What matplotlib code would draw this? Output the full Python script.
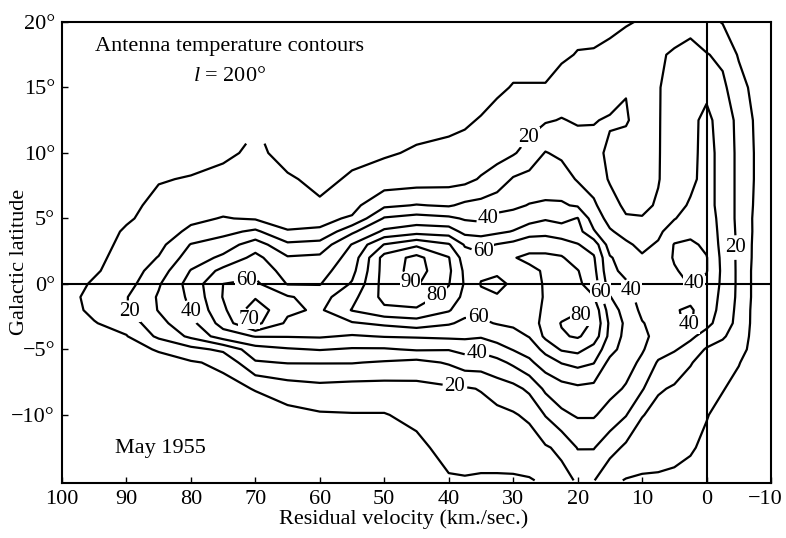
import numpy as np
import matplotlib
matplotlib.use("Agg")
from matplotlib import pyplot as plt
from matplotlib.transforms import ScaledTranslation

plt.rcParams["font.family"] = ["Liberation Serif", "DejaVu Serif"]
plt.rcParams["mathtext.fontset"] = "custom"
plt.rcParams["mathtext.rm"] = "Liberation Serif"
plt.rcParams["mathtext.it"] = "Liberation Serif:italic"

nan = np.nan

# residual velocity (km/s) of each profile, galactic latitude (deg) of each sample
velocity = [100, 95, 90, 85, 80, 75, 70, 65, 60, 55, 50, 45, 40, 37.5, 35, 32.5, 30,
            27.5, 25, 22.5, 20, 17.5, 15, 12.5, 10, 7.5, 5, 2.5, 0, -2.5, -5, -7.5, -10]
latitude = [-15, -12.5, -10, -8, -6, -5, -4, -3, -2, -1, 0, 1, 2, 3, 4, 5, 6, 8, 10,
            12.5, 15, 17.5, 20]

# antenna temperature, one row per velocity
temperature = [
    [2, 2, 2, 2, 3, 3, 4, 5, 6, 6, 6, 5, 5, 4, 4, 3, 3, 2, 2, 2, 2, 2, 2],
    [2, 3, 3, 4, 5, 6, 8, 9.5, 12, 13, 11, 9, 8, 7, 6, 5, 4, 3, 2, 2, 2, 1, 1],
    [2, 3, 4, 5, 7, 8, 9.5, 14, 19.5, 19.5, 16, 14, 13, 12, 11, 9, 8, 6, 4, 3, 2, 2, 1],
    [2, 3, 4, 6, 8, 10.5, 22, 27, 30.5, 31, 29, 25, 20.5, 17, 15, 13, 12, 9.5, 6, 4, 3, 2, 2],
    [2, 3, 4, 6, 9, 17, 32, 37, 40.5, 42, 44, 40.5, 35, 30.5, 22, 18, 15, 10.5, 7, 4, 3, 2, 2],
    [2, 3, 4, 7, 12, 22, 45, 54, 58, 60.5, 60, 53, 42, 35, 27, 20.5, 17, 13, 8, 5, 3, 2, 2],
    [2, 3, 5, 10.5, 29, 36, 50.5, 73, 76, 69, 62, 57, 53, 45, 32, 19, 17, 13, 12, nan, 4, 3, 2],
    [2, 4, 7, 15, 30.5, 39, 50.5, 58, 62, 61, 49.5, 46, 41, 32, 20.5, 17, 15, 11, 7, 5, 3, 2, 2],
    [2, 4, 9, 17, 30.5, 40.5, 51, 56, 58.5, 56, 49.5, 46, 42, 34, 21, 18, 11, 8, 6, 4, 3, 2, 2],
    [2, 5, 9.5, 16, 30.5, 39, 49, 59, 70.5, 67, 61, 57, 54, 50.5, 38, 21, 17, 11, 8, 5, 3, 2, 2],
    [3, 6, 9.5, 16, 29, 39, 50.5, 62, 78, 83, 84, 84, 84, 70.5, 52, 41, 28, 14, 9, 6, 4, 3, 2],
    [4, 7.5, 12.5, 17, 27, 41, 51, 65, 79, 84, 91, 94, 93, 78, 56, 44, 30.5, 15, 11, 7, 5, 3, 2],
    [9, 13.5, 16, 18.5, 31, 40.5, 52, 61, 71, 77, 80.5, 82, 80.5, 71, 55, 42, 29, 16, 12, 8, 6, 4, 3],
    [9.5, 13, 16, 19, 35, 43, 52, 58, 63, 67, 69, 68, 65, 59, 47, 39, 32, 17, 12.5, 9, 6, 4, 3],
    [9, 13.5, 16.5, 20.5, 35, 42, 51, 58.5, 62, 62, 59.5, 62, 62, 57, 46, 38, 33, 21, 14, 10.5, 7, 5, 3],
    [9, 13.5, 17, 25, 37, 46, 54, 60.5, 62, 61, 57, 62, 64, 60.5, 48, 43, 36, 24, 17, 13, 8.5, 6, 4],
    [9, 14, 19, 27, 42, 50.5, 56, 62, 64, 63, 62, 65, 69.5, 63, 50.5, 44, 38, 31, 19, 15, 10.5, 7, 4],
    [9.5, 14.5, 22, 32, 48, 54, 60.5, 64, 65, 65, 66, 68, 72, 66, 56, 46, 40.5, 33, 24, 16, 10.5, 7, 4],
    [11, 19, 30.5, 42, 55, 63, 72, 74, 72, 71, 71, 71, 72, 66, 57, 49, 41, 36, 30.5, 19, 10.5, 7, 5],
    [17, 22, 38, 46, 60.5, 71, 79, 80.5, 76, 73, 72, 72, 71, 64, 55, 47, 41, 35, 28, 20.5, 14, 8.5, 6],
    [21, 30.5, 41, 48, 63, 73, 81, 83, 79, 75, 72, 70.5, 65, 60.5, 54, 50.5, 39, 29, 25, 19, 14, 10.5, 7],
    [20.5, 30.5, 41, 47, 60.5, 66, 76, 79, 77, 70.5, 65, 63, 61, 56, 41, 35, 31.5, 26, 23, 19.5, 14, 10.5, 8],
    [12, 24, 36, 43, 47, 54, 57, 58, 55, 50.5, 45, 42, 41, 35, 31, 27, 24, 19, 18, 21, 15, 11, 9],
    [9.5, 18, 30.5, 39, 44, 45, 47, 48, 46, 43, 41, 38, 35, 31.5, 27, 21, 18, 15, 15.5, 21, 19.5, 13, 9.5],
    [9, 14, 20.5, 31, 38, 41, 41.5, 40.5, 38, 37, 35, 33, 31, 28, 24, 20.5, 18, 15, 15, 15.5, 15, 13, 10.5],
    [9, 13, 17, 21, 29, 34, 38, 37, 36, 35.5, 35, 34, 33, 31, 28, 24, 21, 19.5, 19.5, 19.5, 19.5, 19, 13],
    [8, 13, 17, 19, 25, 31, 35, 39, 39.5, 36, 37, 39, 41, 40.5, 35, 29.5, 27, 25, 24, 23.5, 23, 21, 16],
    [7, 11, 14, 17, 20.5, 26, 32, 41, 41, 38, 40.5, 43, 44, 42, 37, 34, 31, 28, 27.5, 28, 27, 23, 17],
    [6, 8, 10.5, 13, 17, 19, 26, 33, 36, 37, 38, 40.5, 40.5, 38, 36, 34.5, 33, 33, 33, 32, 28, 20.5, 13],
    [4, 5, 7, 10.5, 14, 17, 21, 25, 26, 27, 28, 28, 27.5, 27, 27, 27, 27, 27, 27, 26.5, 22, 18, 9.5],
    [3, 4, 5, 7, 10.5, 14, 16, 17, 17.5, 18, 18, 18, 18, 18.5, 18, 17.5, 17.5, 17.5, 17.5, 17, 14, 9, 6],
    [2, 2, 3, 4, 5, 6, 6.5, 7, 7, 7.5, 7.5, 7.5, 8, 8, 8.5, 8.5, 9, 9.5, 9.5, 9, 7, 5, 3],
    [2, 2, 2, 2, 2, 2, 2, 2, 2, 2, 2, 2, 2, 2, 2, 2, 2, 2, 2, 2, 2, 2, 2],
]

levels = [10, 20, 30, 40, 50, 60, 70, 80, 90]

# where the numbers sit on the contours (velocity, latitude)
label_spots = {
    20: [(89, -1.9), (27.6, 11.2), (39, -7.6), (-3.4, 2.8)],
    40: [(79.3, -1.9), (33.5, 4.7), (35.6, -5.3), (12, -0.6), (2.2, 0.2), (3, -3.7)],
    60: [(71.6, 0.8), (34.8, 2.6), (35.4, -2.7), (17.5, -0.8)],
    70: [(70.5, -2.6)],
    80: [(41.8, -1.0), (19.6, -2.5)],
    90: [(46.7, -0.1)],
}

xticks = [100, 90, 80, 70, 60, 50, 40, 30, 20, 10, 0, -10]
yticks = [20, 15, 10, 5, 0, -5, -10]

v = np.array(velocity)[::-1]
z = np.ma.masked_invalid(np.array(temperature, dtype=float)[::-1].T)

fig = plt.figure(figsize=(7.86, 5.38), dpi=100)
ax = fig.add_axes([62 / 786, 55 / 538, 709 / 786, 461 / 538])

ax.axhline(0, color="black", lw=1.5, zorder=1)
ax.axvline(0, color="black", lw=1.5, zorder=1)

texts = []
for lev in levels:
    cs = ax.contour(v, latitude, z, levels=[lev], colors="black", linewidths=1.6, zorder=2)
    if lev in label_spots:
        texts += ax.clabel(cs, manual=label_spots[lev], inline=True, fmt="%d",
                           fontsize=15, inline_spacing=2)
for t in texts:
    t.set_rotation(0)
    t.set_zorder(4)
    t.set_bbox(dict(facecolor="white", edgecolor="none", pad=0.3))

ax.set_xlim(100, -10)
ax.set_ylim(-15.2, 20)
ax.set_xticks(xticks)
ax.set_xticklabels([str(x).replace("-", "\u2212") for x in xticks])
ax.set_yticks(yticks)
ax.set_yticklabels([(str(y) + "\u00b0").replace("-", "\u2212") for y in yticks])
ax.tick_params(direction="in", length=4, width=1, labelsize=16, pad=5)
last = ax.get_xticklabels()[-1]
last.set_transform(last.get_transform() + ScaledTranslation(-6 / 100, 0, fig.dpi_scale_trans))
for s in ax.spines.values():
    s.set_linewidth(1.5)

ax.set_xlabel("Residual velocity (km./sec.)", fontsize=16)
ax.xaxis.set_label_coords(0.482, -0.058)
ax.set_ylabel("Galactic latitude", fontsize=16)
ax.yaxis.set_label_coords(-0.047, 0.48)

ax.text(0.046, 0.946, "Antenna temperature contours", transform=ax.transAxes,
        fontsize=16, va="center", ha="left")
ax.text(0.185, 0.881, "$l$ = 200\u00b0", transform=ax.transAxes,
        fontsize=16, va="center", ha="left")
ax.text(0.075, 0.074, "May 1955", transform=ax.transAxes,
        fontsize=16, va="center", ha="left")

fig.savefig("out.png", dpi=100)
